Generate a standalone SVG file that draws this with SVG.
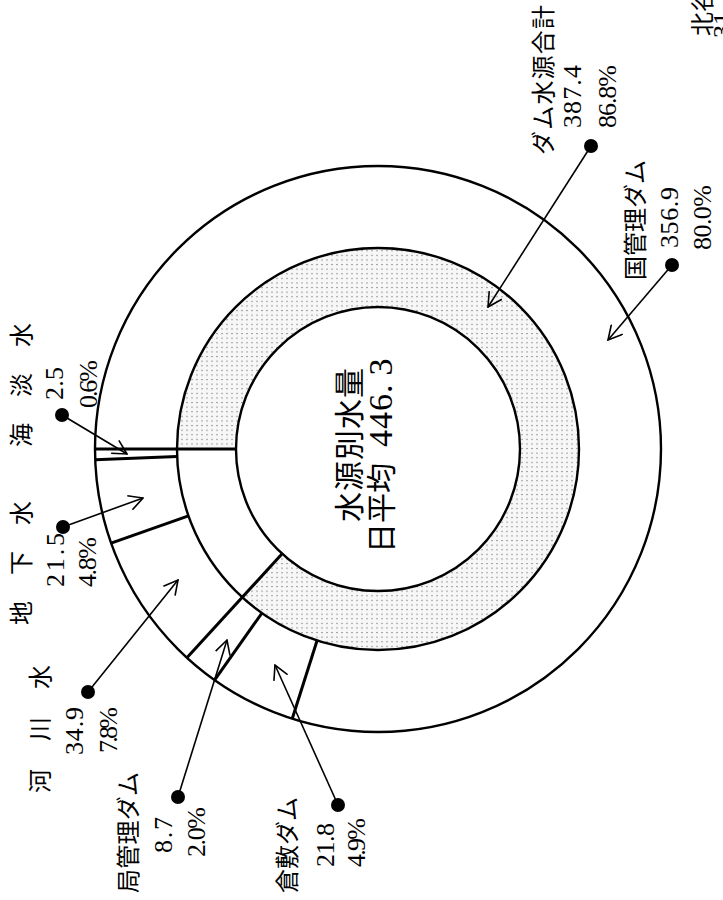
<svg xmlns="http://www.w3.org/2000/svg" width="723" height="900" viewBox="0 0 723 900">
<style>
.t{font-family:"Liberation Serif","Noto Sans CJK JP",serif;font-size:24px;fill:#000}
.n{font-family:"Liberation Serif","Noto Sans CJK JP",serif;font-size:26px;fill:#000}
.c{fill:none;stroke:#000;stroke-width:2.4}
.s{fill:none;stroke:#000;stroke-width:3}
.l{fill:none;stroke:#000;stroke-width:1.6}
.d{fill:#000}
</style>
<defs>
<pattern id="dots" width="5" height="4.6" patternUnits="userSpaceOnUse">
<rect width="5" height="4.6" fill="#f7f7f7"/>
<rect x="1" y="1.8" width="2" height="1.1" fill="#a8a8a8"/>
</pattern>
<marker id="arr" viewBox="0 0 17 16" refX="16" refY="8" markerWidth="17" markerHeight="16" markerUnits="userSpaceOnUse" orient="auto">
<path d="M2,0.5 L16,8 L2,15.5" fill="none" stroke="#000" stroke-width="1.6"/>
</marker>
</defs>
<rect width="723" height="900" fill="#fff"/>

<g id="chart">
<path id="dam-total-fill" d="M177,449 A201,201 0 1 1 242.27,597.25 L282.11,553.74 A142,142 0 1 0 236,449 Z" fill="url(#dots)"/>
<circle class="c" cx="378" cy="449" r="283"/>
<circle class="c" cx="378" cy="449" r="201"/>
<circle class="c" cx="378" cy="449" r="142"/>
<line class="s" x1="95" y1="449" x2="236" y2="449"/>
<line class="s" x1="95.2" y1="459.67" x2="177.14" y2="456.58"/>
<line class="s" x1="111.13" y1="543.18" x2="188.45" y2="515.89"/>
<line class="s" x1="186.9" y1="657.74" x2="282.11" y2="553.74"/>
<line class="s" x1="214.55" y1="680.02" x2="261.91" y2="613.08"/>
<line class="s" x1="292.24" y1="718.69" x2="317.09" y2="640.55"/>
</g>

<g id="center-label">
<text class="t" style="font-size:30px" transform="translate(360,522) rotate(-90)" textLength="154" lengthAdjust="spacing">水源別水量</text>
<text class="t" style="font-size:30px" transform="translate(392,553) rotate(-90)">日平均<tspan x="106" style="font-size:34px" letter-spacing="1">446.</tspan><tspan dx="8" style="font-size:34px">3</tspan></text>
</g>

<g id="connectors">
<line class="l" x1="591" y1="146" x2="488" y2="307" marker-end="url(#arr)"/>
<line class="l" x1="672" y1="265" x2="608" y2="340" marker-end="url(#arr)"/>
<line class="l" x1="62" y1="415" x2="127" y2="454" marker-end="url(#arr)"/>
<line class="l" x1="63" y1="527" x2="143" y2="498" marker-end="url(#arr)"/>
<line class="l" x1="88" y1="692" x2="178" y2="580" marker-end="url(#arr)"/>
<line class="l" x1="178" y1="797" x2="227" y2="640" marker-end="url(#arr)"/>
<line class="l" x1="338" y1="805" x2="275" y2="665" marker-end="url(#arr)"/>
</g>

<g id="dam-total">
<circle class="d" cx="591" cy="146" r="7"/>
<text class="t" transform="translate(552,155) rotate(-90)" textLength="150" lengthAdjust="spacing">ダム水源合計</text>
<text class="n" transform="translate(581,128) rotate(-90)" textLength="63" lengthAdjust="spacing">387.4</text>
<text class="n" transform="translate(616,128) rotate(-90)" textLength="63" lengthAdjust="spacing">86.8%</text>
</g>

<g id="national-dam">
<circle class="d" cx="672" cy="265" r="7"/>
<text class="t" transform="translate(644,280) rotate(-90)" textLength="120" lengthAdjust="spacing">国管理ダム</text>
<text class="n" transform="translate(678,248) rotate(-90)" textLength="61" lengthAdjust="spacing">356.9</text>
<text class="n" transform="translate(711,250) rotate(-90)" textLength="65" lengthAdjust="spacing">80.0%</text>
</g>

<g id="chatan">
<text class="t" transform="translate(711,36) rotate(-90)">北谷</text>
<text class="n" transform="translate(731,38) rotate(-90)">31</text>
</g>

<g id="desalination">
<circle class="d" cx="62" cy="415" r="7"/>
<text class="t" transform="translate(30,447) rotate(-90)" letter-spacing="26">海淡水</text>
<text class="n" transform="translate(63,400) rotate(-90)" textLength="33" lengthAdjust="spacing">2.5</text>
<text class="n" transform="translate(97,408) rotate(-90)" textLength="48" lengthAdjust="spacing">0.6%</text>
</g>

<g id="groundwater">
<circle class="d" cx="63" cy="527" r="7"/>
<text class="t" transform="translate(30,625) rotate(-90)" letter-spacing="26">地下水</text>
<text class="n" transform="translate(64,587) rotate(-90)" textLength="54" lengthAdjust="spacing">21.5</text>
<text class="n" transform="translate(96,587) rotate(-90)" textLength="50" lengthAdjust="spacing">4.8%</text>
</g>

<g id="river">
<circle class="d" cx="88" cy="692" r="7"/>
<text class="t" transform="translate(49,793) rotate(-90)" letter-spacing="28">河川水</text>
<text class="n" transform="translate(83,755) rotate(-90)" textLength="48" lengthAdjust="spacing">34.9</text>
<text class="n" transform="translate(117,753) rotate(-90)" textLength="46" lengthAdjust="spacing">7.8%</text>
</g>

<g id="prefectural-dam">
<circle class="d" cx="178" cy="797" r="7"/>
<text class="t" transform="translate(137,893) rotate(-90)" textLength="121" lengthAdjust="spacing">局管理ダム</text>
<text class="n" transform="translate(172,853) rotate(-90)" textLength="36" lengthAdjust="spacing">8.7</text>
<text class="n" transform="translate(205,857) rotate(-90)" textLength="50" lengthAdjust="spacing">2.0%</text>
</g>

<g id="kurashiki-dam">
<circle class="d" cx="338" cy="805" r="7"/>
<text class="t" transform="translate(296,893) rotate(-90)" textLength="96" lengthAdjust="spacing">倉敷ダム</text>
<text class="n" transform="translate(334,867) rotate(-90)" textLength="44" lengthAdjust="spacing">21.8</text>
<text class="n" transform="translate(365,867) rotate(-90)" textLength="49" lengthAdjust="spacing">4.9%</text>
</g>
</svg>
